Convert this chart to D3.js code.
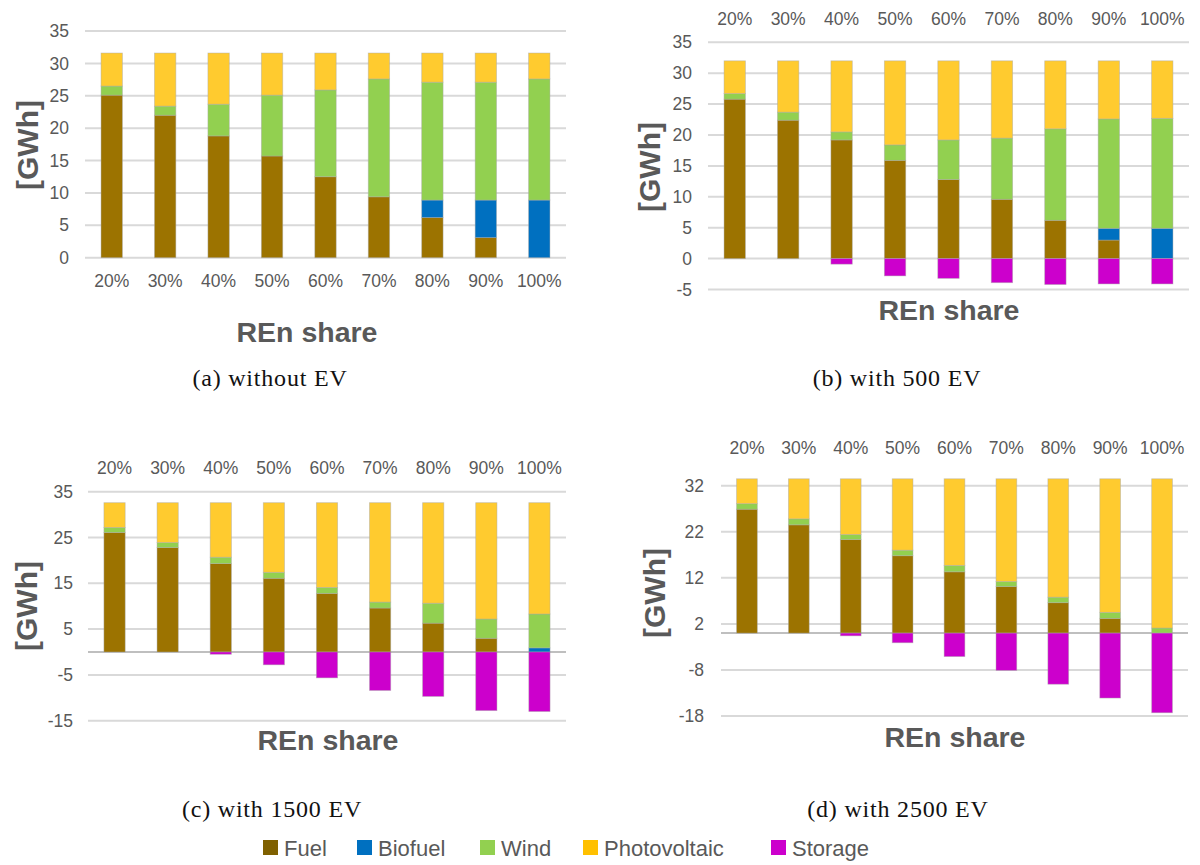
<!DOCTYPE html>
<html><head><meta charset="utf-8">
<script src="https://cdn.jsdelivr.net/npm/d3@7"></script>
<style>
html,body{margin:0;padding:0;background:#fff;}
svg{display:block;}
</style></head>
<body>
<svg id="chart" width="1200" height="865"></svg>
<script>
// ---------- data ----------
const categories = ["20%","30%","40%","50%","60%","70%","80%","90%","100%"];
const seriesNames = ["Fuel","Biofuel","Wind","Photovoltaic","Storage"];

// (a) without EV
const fuelA    = [25.1,22.0,18.8,15.7,12.5,9.4,6.2,3.1,0];
const biofuelA = [0,0,0,0,0,0,2.7,5.8,8.9];
const windA    = [1.4,1.4,4.9,9.4,13.4,18.2,18.2,18.2,18.7];
const pvA      = [5.1,8.2,7.9,6.5,5.7,4.0,4.5,4.5,4.0];
const storageA = [0,0,0,0,0,0,0,0,0];
const ticksA   = [0,5,10,15,20,25,30,35];

// (b) with 500 EV
const fuelB    = [25.8,22.4,19.2,15.9,12.8,9.6,6.2,3.0,0];
const biofuelB = [0,0,0,0,0,0,0,1.9,4.9];
const windB    = [0.9,1.3,1.3,2.5,6.4,9.9,14.8,17.7,17.8];
const pvB      = [5.3,8.3,11.5,13.6,12.8,12.5,11.0,9.4,9.3];
const storageB = [0,0,-0.9,-2.8,-3.2,-3.9,-4.2,-4.1,-4.1];
const ticksB   = [-5,0,5,10,15,20,25,30,35];

// (c) with 1500 EV
const fuelC    = [26.1,22.8,19.3,16.1,12.8,9.6,6.3,3.0,0];
const biofuelC = [0,0,0,0,0,0,0,0,0.9];
const windC    = [1.1,1.1,1.4,1.3,1.3,1.3,4.35,4.2,7.4];
const pvC      = [5.4,8.7,11.9,15.2,18.5,21.7,21.95,25.4,24.3];
const storageC = [0,0,-0.5,-2.8,-5.65,-8.4,-9.7,-12.8,-13.0];
const ticksC   = [-15,-5,5,15,25,35];

// (d) with 2500 EV
const fuelD    = [26.9,23.5,20.3,16.8,13.3,10.1,6.6,3.2,0];
const biofuelD = [0,0,0,0,0,0,0,0,0];
const windD    = [1.2,1.3,1.1,1.2,1.4,1.1,1.2,1.3,1.1];
const pvD      = [5.4,8.7,12.1,15.5,18.8,22.3,25.7,29.0,32.4];
const storageD = [0,0,-0.6,-2.1,-5.1,-8.1,-11.1,-14.1,-17.3];
const ticksD   = [-18,-8,2,12,22,32];

const captions = ["(a) without EV","(b) with 500 EV","(c) with 1500 EV","(d) with 2500 EV"];
const yTitle = "[GWh]";
const xTitle = "REn share";

// ---------- style ----------
const colors = {Fuel:"#9C7300",Biofuel:"#0070C0",Wind:"#92D050",Photovoltaic:"#FFCB2F",Storage:"#CC00CC"};
const legendColors = {Fuel:"#7F6000",Biofuel:"#0070C0",Wind:"#92D050",Photovoltaic:"#FFC000",Storage:"#CC00CC"};
const SANS = "'Liberation Sans', Arial, sans-serif";
const SERIF = "'Liberation Serif', 'Times New Roman', serif";
const GRAY = "#595959";

const panels = [
  {data:[fuelA,biofuelA,windA,pvA,storageA], ticks:ticksA, x0:85, x1:566, yTop:31, yBot:257.7,
   catTop:false, catY:281, tickRight:69, yt:[27,145], xt:[307,342], zeroAxis:false, cap:[270,386]},
  {data:[fuelB,biofuelB,windB,pvB,storageB], ticks:ticksB, x0:708, x1:1189, yTop:42.3, yBot:289.5,
   catTop:true, catY:19, tickRight:692, yt:[649,167], xt:[949,320], zeroAxis:false, cap:[897,386]},
  {data:[fuelC,biofuelC,windC,pvC,storageC], ticks:ticksC, x0:88, x1:566, yTop:491.7, yBot:720.7,
   catTop:true, catY:468, tickRight:73, yt:[26,606], xt:[328,750], zeroAxis:true, cap:[272,817]},
  {data:[fuelD,biofuelD,windD,pvD,storageD], ticks:ticksD, x0:721, x1:1188, yTop:485.7, yBot:716,
   catTop:true, catY:448, tickRight:704, yt:[654,593], xt:[955,747], zeroAxis:true, cap:[898,817]}
];

const svg = d3.select("#chart");

panels.forEach((p, pi) => {
  const g = svg.append("g");
  const rows = categories.map((c, i) => {
    const o = {cat:c};
    seriesNames.forEach((s, k) => o[s] = p.data[k][i]);
    return o;
  });
  const x = d3.scaleBand().domain(categories).range([p.x0, p.x1]).paddingInner(0.6).paddingOuter(0.3);
  const y = d3.scaleLinear().domain([d3.min(p.ticks), d3.max(p.ticks)]).range([p.yBot, p.yTop]);

  // gridlines
  g.append("g").selectAll("line").data(p.ticks).join("line")
    .attr("x1", p.x0).attr("x2", p.x1)
    .attr("y1", d => y(d)).attr("y2", d => y(d))
    .attr("stroke", "#d9d9d9").attr("stroke-width", 2);
  if (p.zeroAxis) {
    g.append("line").attr("x1", p.x0).attr("x2", p.x1)
      .attr("y1", y(0)).attr("y2", y(0))
      .attr("stroke", "#bfbfbf").attr("stroke-width", 2);
  }

  // y tick labels
  g.append("g").selectAll("text").data(p.ticks).join("text")
    .attr("x", p.tickRight).attr("y", d => y(d)).attr("dy", "0.35em")
    .attr("text-anchor", "end").attr("font-family", SANS).attr("font-size", 17.5)
    .attr("fill", GRAY).text(d => d);

  // stacked bars
  const stack = d3.stack().keys(seriesNames).offset(d3.stackOffsetDiverging);
  const layers = stack(rows);
  g.append("g").selectAll("g").data(layers).join("g")
    .attr("fill", d => colors[d.key])
    .selectAll("rect").data(d => d.filter(v => Math.abs(v[1]-v[0]) > 1e-9)).join("rect")
    .attr("x", d => x(d.data.cat))
    .attr("width", x.bandwidth())
    .attr("y", d => y(Math.max(d[0], d[1])))
    .attr("height", d => Math.abs(y(d[0]) - y(d[1])))
    .attr("stroke", "rgba(170,170,170,0.55)").attr("stroke-width", 0.8);

  // category labels
  g.append("g").selectAll("text").data(categories).join("text")
    .attr("x", d => x(d) + x.bandwidth()/2).attr("y", p.catY).attr("dy", "0.35em")
    .attr("text-anchor", "middle").attr("font-family", SANS).attr("font-size", 17.5)
    .attr("fill", GRAY).text(d => d);

  // axis titles
  g.append("text")
    .attr("transform", `translate(${p.yt[0]},${p.yt[1]}) rotate(-90)`)
    .attr("text-anchor", "middle").attr("dy", "0.35em")
    .attr("font-family", SANS).attr("font-weight", "bold").attr("font-size", 30)
    .attr("fill", GRAY).text(yTitle);
  g.append("text")
    .attr("x", p.xt[0]).attr("y", p.xt[1]).attr("text-anchor", "middle")
    .attr("font-family", SANS).attr("font-weight", "bold").attr("font-size", 28.5)
    .attr("fill", GRAY).text(xTitle);

  // caption
  g.append("text")
    .attr("x", p.cap[0]).attr("y", p.cap[1]).attr("text-anchor", "middle")
    .attr("font-family", SERIF).attr("font-size", 24).attr("letter-spacing", 0.8)
    .attr("fill", "#111").text(captions[pi]);
});

// legend
const legendX = [263, 357, 480, 583, 771];
const lg = svg.append("g");
seriesNames.forEach((s, i) => {
  lg.append("rect").attr("x", legendX[i]).attr("y", 840).attr("width", 15).attr("height", 15)
    .attr("fill", legendColors[s]);
  lg.append("text").attr("x", legendX[i] + 21).attr("y", 856)
    .attr("font-family", SANS).attr("font-size", 22).attr("fill", GRAY).text(s);
});
</script>
</body></html>
